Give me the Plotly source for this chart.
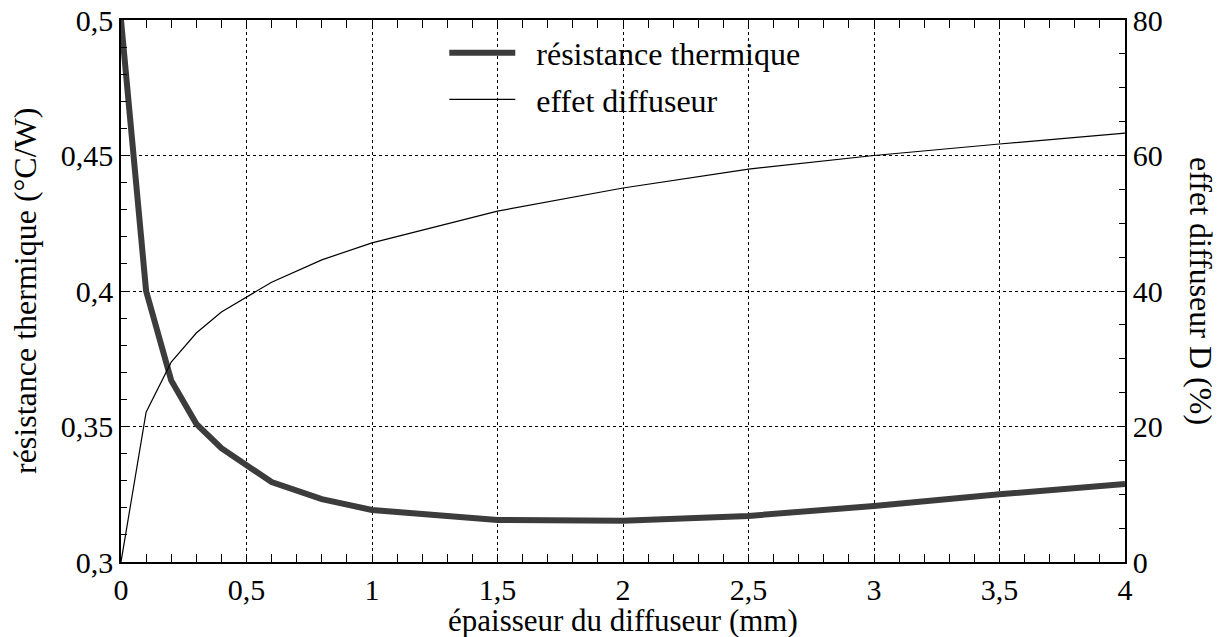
import plotly.graph_objects as go

# Data
epaisseur_r = [0, 0.1, 0.2, 0.3, 0.4, 0.6, 0.8, 1.0, 1.5, 2.0, 2.5, 3.0, 3.5, 4.0]
resistance = [0.5, 0.4, 0.367, 0.351, 0.342, 0.3295, 0.3232, 0.3192, 0.3155, 0.3152, 0.317, 0.3207, 0.325, 0.3288]

epaisseur_d = [0, 0.1, 0.2, 0.3, 0.4, 0.6, 0.8, 1.0, 1.5, 2.0, 2.5, 3.0, 3.5, 4.0]
diffuseur = [0, 22.1, 29.5, 33.8, 36.9, 41.3, 44.6, 47.1, 51.8, 55.2, 58.0, 60.0, 61.7, 63.3]

FONT = "Liberation Serif"
FS = 31
NB = "\u00a0\u00a0"

fig = go.Figure()
fig.add_trace(go.Scatter(x=epaisseur_r, y=resistance, mode="lines",
                         name=NB + "résistance thermique", legendgroup="a",
                         line=dict(color="#3c3c3c", width=6)))
fig.add_trace(go.Scatter(x=epaisseur_d, y=diffuseur, mode="lines",
                         name=NB + "effet diffuseur", legendgroup="b", yaxis="y2",
                         line=dict(color="black", width=1.2)))

axis_common = dict(showline=True, linecolor="black", linewidth=1.5, automargin=False,
                   ticks="inside", ticklen=8, tickcolor="black", ticklabeloverflow="allow",
                   showgrid=True, gridcolor="black", griddash="dot", gridwidth=1,
                   zeroline=False, tickfont=dict(family=FONT, size=30, color="black"))

fig.update_layout(
    width=1218, height=629,
    margin=dict(l=113, r=101, t=12, b=75),
    paper_bgcolor="white", plot_bgcolor="white",
    separators=", ",
    font=dict(family=FONT, size=FS, color="black"),
    xaxis=dict(range=[0, 4], dtick=0.5, tick0=0, mirror="allticks",
               minor=dict(dtick=0.1, ticks="inside", ticklen=6, tickcolor="black", showgrid=False),
               **axis_common),
    yaxis=dict(range=[0.3, 0.5], dtick=0.05, tick0=0.3, mirror=True,
               minor=dict(dtick=0.01, ticks="inside", ticklen=6, tickcolor="black", showgrid=False),
               **axis_common),
    yaxis2=dict(range=[0, 80], dtick=20, tick0=0, overlaying="y", side="right",
                minor=dict(dtick=5, ticks="inside", ticklen=6, tickcolor="black", showgrid=False),
                **{**axis_common, "showgrid": False}),
    legend=dict(x=0.322, y=0.99, xanchor="left", yanchor="top",
                bgcolor="rgba(0,0,0,0)", itemwidth=66, tracegroupgap=2,
                traceorder="grouped",
                font=dict(family=FONT, size=32, color="black")),
    annotations=[
        dict(text="effet diffuseur D (%)", textangle=90,
             x=1.0, xref="paper", xanchor="center", xshift=76,
             y=0.5, yref="paper", yanchor="middle", showarrow=False,
             font=dict(family=FONT, size=32, color="black")),
        dict(text="résistance thermique (°C/W)", textangle=-90,
             x=0.0, xref="paper", xanchor="center", xshift=-96,
             y=0.5, yref="paper", yanchor="middle", showarrow=False,
             font=dict(family=FONT, size=32, color="black")),
        dict(text="épaisseur du diffuseur (mm)",
             x=0.5, xref="paper", xanchor="center",
             y=0.0, yref="paper", yanchor="middle", yshift=-58, showarrow=False,
             font=dict(family=FONT, size=FS, color="black")),
    ],
)

fig.write_html("out.html")
